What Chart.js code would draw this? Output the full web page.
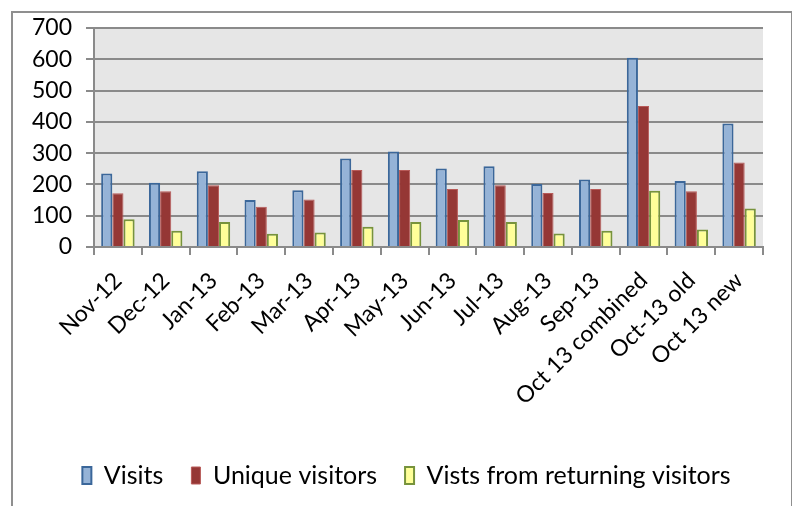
<!DOCTYPE html>
<html lang="en">
<head>
  <meta charset="UTF-8">
  <title>Visits chart</title>
  <script src="https://cdn.jsdelivr.net/npm/chart.js"></script>
  <style>
    html, body { margin: 0; padding: 0; background: #fff; overflow: hidden; }
    .wrap { position: relative; width: 792px; height: 506px; }
    .frame {
      position: absolute;
      left: 11px; top: 11px;
      width: 778px; height: 600px;
      border: 2px solid #8f8f8f;
    }
    canvas { position: absolute; left: 0; top: 0; }
  </style>
</head>
<body>
  <div class="wrap">
    <div class="frame"></div>
    <canvas id="grafico" width="792" height="506"></canvas>
  </div>

  <script>
    const categorias = ['Nov-12', 'Dec-12', 'Jan-13', 'Feb-13', 'Mar-13', 'Apr-13', 'May-13', 'Jun-13',
      'Jul-13', 'Aug-13', 'Sep-13', 'Oct 13 combined', 'Oct-13 old', 'Oct 13 new'];
    const visits = [235, 205, 242, 150, 181, 283, 305, 251, 258, 201, 216, 605, 211, 395];
    const uniqueVisitors = [172, 178, 197, 129, 152, 246, 246, 185, 197, 173, 185, 451, 178, 270];
    const returningVisits = [89, 52, 80, 42, 46, 65, 80, 86, 80, 43, 52, 180, 56, 123];
    const yTicks = [0, 100, 200, 300, 400, 500, 600, 700];

    const fonte = 'Lato, "Open Sans", sans-serif';

    // fundo cinza da area do grafico
    const fundoPlot = {
      id: 'fundoPlot',
      beforeDraw(chart) {
        const { ctx, chartArea: a } = chart;
        ctx.save();
        ctx.fillStyle = '#e6e6e6';
        ctx.fillRect(a.left, a.top, a.right - a.left, a.bottom - a.top);
        ctx.restore();
      }
    };

    // empurra a legenda um pouco pra direita (no original ela fica centrada no quadro todo)
    const moveLegenda = {
      id: 'moveLegenda',
      afterLayout(chart) {
        if (chart.legend) {
          chart.legend.left += 19;
          chart.legend.right += 19;
        }
      }
    };

    new Chart(document.getElementById('grafico'), {
      type: 'bar',
      data: {
        labels: categorias,
        datasets: [
          { label: 'Visits', data: visits, backgroundColor: '#95b3d7', borderColor: '#3b679a', borderWidth: 2, borderSkipped: 'bottom' },
          { label: 'Unique visitors', data: uniqueVisitors, backgroundColor: '#953735', borderColor: '#b85a58', borderWidth: 1, borderSkipped: 'bottom' },
          { label: 'Vists from returning visitors', data: returningVisits, backgroundColor: '#ffff99', borderColor: '#77933c', borderWidth: 2, borderSkipped: 'bottom' }
        ]
      },
      options: {
        responsive: false,
        animation: false,
        layout: { padding: { left: 12, right: 29, top: 28, bottom: 8 } },
        datasets: { bar: { categoryPercentage: 0.7, barPercentage: 1.0 } },
        scales: {
          x: {
            grid: { display: true, drawOnChartArea: false, drawTicks: true, tickLength: 8, color: '#8a8a8a', lineWidth: 2, offset: true },
            border: { color: '#8a8a8a', width: 2 },
            ticks: { color: '#000', font: { family: fonte, size: 23 }, minRotation: 45, maxRotation: 45, autoSkip: false, padding: 12 },
            afterFit(scale) { scale.height = 188; }
          },
          y: {
            min: 0, max: 700,
            afterBuildTicks(scale) { scale.ticks = yTicks.map(v => ({ value: v })); },
            grid: { color: '#8a8a8a', lineWidth: 2, tickLength: 8 },
            border: { color: '#8a8a8a', width: 2 },
            ticks: { color: '#000', font: { family: fonte, size: 23 }, padding: 14 },
            afterFit(scale) { scale.width = 82; }
          }
        },
        plugins: {
          legend: {
            position: 'bottom',
            labels: {
              color: '#000',
              font: { family: fonte, size: 25 },
              boxWidth: 9, boxHeight: 17,
              padding: 28,
              useBorderRadius: false
            }
          },
          tooltip: { enabled: false }
        }
      },
      plugins: [fundoPlot, moveLegenda]
    });
  </script>
</body>
</html>
